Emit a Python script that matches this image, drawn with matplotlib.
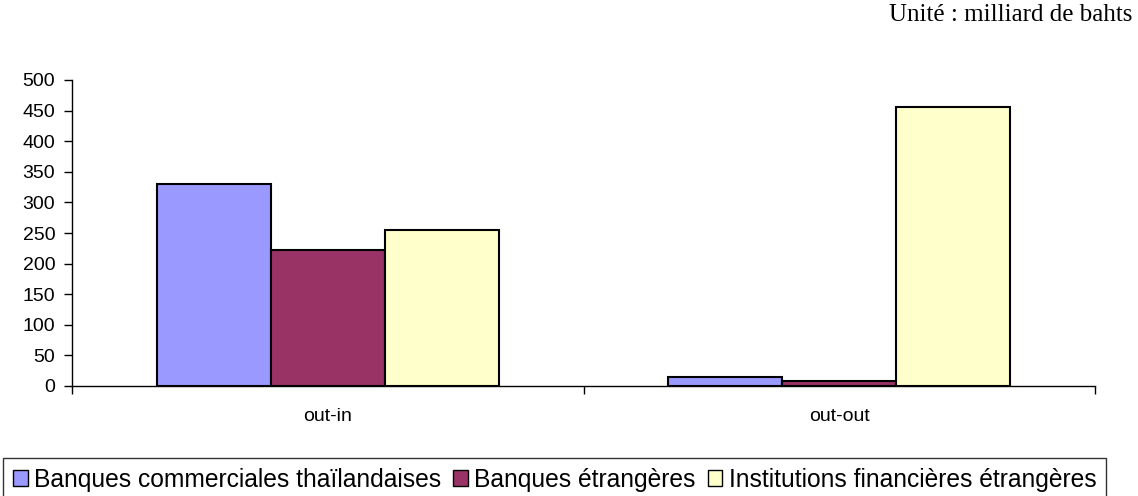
import numpy as np
import matplotlib.pyplot as plt
from matplotlib.ticker import FixedLocator, NullFormatter

# milliard de bahts
categories = ['out-in', 'out-out']
series_names = ['Banques commerciales thaïlandaises', 'Banques étrangères',
                'Institutions financières étrangères']
thai_banks = [330, 15]
foreign_banks = [222, 8]
foreign_fin = [255, 456]
colors = ['#9999FF', '#993366', '#FFFFCC']

plt.rcParams['font.family'] = ['Liberation Sans', 'DejaVu Sans']

fig = plt.figure(figsize=(11.38, 4.96), dpi=100)
ax = fig.add_axes([72 / 1138, 1 - 386 / 496, (1095 - 72) / 1138, 306 / 496])

x = np.arange(len(categories))
w = 0.223
for i, (vals, name, c) in enumerate(zip([thai_banks, foreign_banks, foreign_fin], series_names, colors)):
    ax.bar(x + (i - 1) * w, vals, w, color=c, edgecolor='black', linewidth=1.5, label=name)

ax.set_xlim(-0.5, 1.5)
ax.set_ylim(0, 500)
ax.set_yticks(range(0, 501, 50))
ax.set_xticks(x)
ax.set_xticklabels(categories, fontsize=14)
ax.xaxis.set_minor_locator(FixedLocator([-0.5, 0.5, 1.5]))
ax.xaxis.set_minor_formatter(NullFormatter())
ax.tick_params(axis='x', which='major', length=0, pad=16)
ax.tick_params(axis='x', which='minor', length=6, width=1)
ax.tick_params(axis='y', length=6, width=1, labelsize=14, pad=6)
for s in ['top', 'right']:
    ax.spines[s].set_visible(False)
for s in ['left', 'bottom']:
    ax.spines[s].set_linewidth(1)

fig.text(1132 / 1138, 1 - 15 / 496, 'Unité : milliard de bahts', ha='right', va='center',
         fontsize=18, family=['Liberation Serif', 'DejaVu Serif'])

leg = fig.legend(loc='upper left', bbox_to_anchor=(3 / 1138, 1 - 458 / 496), ncol=3,
                 fontsize=17.7, frameon=True, fancybox=False, edgecolor='black',
                 handlelength=0.6, handleheight=0.6, handletextpad=0.25, columnspacing=0.5,
                 borderpad=0.4, borderaxespad=0)
leg.get_frame().set_linewidth(1)
for h in leg.legend_handles:
    h.set_linewidth(1)

fig.savefig('out.png', dpi=100)
